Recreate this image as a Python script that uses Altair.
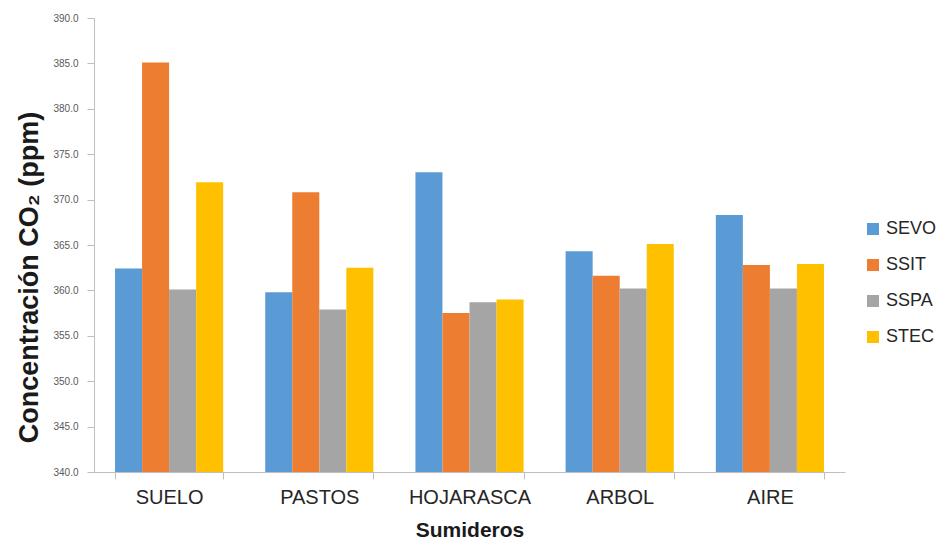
import altair as alt
import pandas as pd

categories = ["SUELO", "PASTOS", "HOJARASCA", "ARBOL", "AIRE"]
series = ["SEVO", "SSIT", "SSPA", "STEC"]
colors = ["#5B9BD5", "#ED7D31", "#A5A5A5", "#FFC000"]
sevo = [362.4, 359.8, 373.0, 364.3, 368.3]
ssit = [385.1, 370.8, 357.5, 361.6, 362.8]
sspa = [360.1, 357.9, 358.7, 360.2, 360.2]
stec = [371.9, 362.5, 359.0, 365.1, 362.9]

rows = []
for s, vals in zip(series, [sevo, ssit, sspa, stec]):
    for c, v in zip(categories, vals):
        rows.append({"Sumidero": c, "Serie": s, "Valor": v})
df = pd.DataFrame(rows)

font = "Liberation Sans"

chart = alt.Chart(df).mark_bar(clip=True).encode(
    x=alt.X("Sumidero:N", sort=categories, title="Sumideros",
            scale=alt.Scale(paddingInner=0.28, paddingOuter=0.14),
            axis=alt.Axis(labelAngle=0, tickBand="extent", labelFontSize=20,
                          labelColor="#262626", labelFont=font, labelPadding=8,
                          titleFontSize=21, titleFont=font, titleFontWeight="bold",
                          titleColor="#1a1a1a", titlePadding=12,
                          domainColor="#BFBFBF", tickColor="#BFBFBF", tickSize=7)),
    xOffset=alt.XOffset("Serie:N", sort=series),
    y=alt.Y("Valor:Q", title="Concentración CO₂ (ppm)",
            scale=alt.Scale(domain=[340, 390], nice=False, zero=False),
            axis=alt.Axis(values=list(range(340, 391, 5)), format=".1f", grid=False,
                          labelFontSize=10, labelColor="#595959", labelFont=font,
                          labelPadding=9,
                          titleFontSize=27, titleFont=font, titleFontWeight="bold",
                          titleColor="#1a1a1a", titlePadding=9, titleY=259,
                          domainColor="#BFBFBF", tickColor="#BFBFBF", tickSize=7)),
    color=alt.Color("Serie:N", sort=series, title=None,
                    scale=alt.Scale(domain=series, range=colors),
                    legend=alt.Legend(orient="none", legendX=770, legendY=202,
                                      padding=0,
                                      labelFontSize=18, labelFont=font, labelColor="#262626",
                                      symbolType="square", symbolSize=144,
                                      symbolStrokeWidth=0, rowPadding=18, labelOffset=4)),
).properties(
    width=751, height=454,
    autosize=alt.AutoSizeParams(type="none"),
    padding={"left": 86, "top": 10, "right": 95, "bottom": 70},
).configure_view(stroke=None)

chart.save("out.html", embed_options={"renderer": "svg", "actions": False})
